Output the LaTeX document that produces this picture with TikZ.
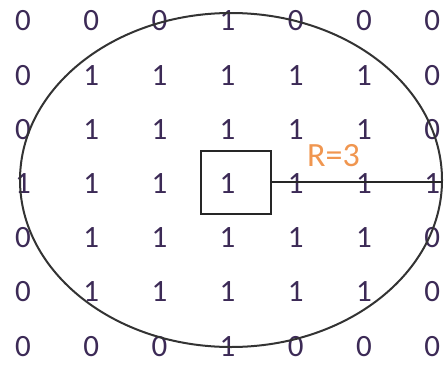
\documentclass[tikz,border=0pt]{standalone}
\usepackage{fontspec}
\setmainfont{Carlito}
\usetikzlibrary{shapes.geometric, positioning}
\definecolor{digit}{RGB}{60,42,86}
\definecolor{radius}{RGB}{240,150,80}

\begin{document}
\begin{tikzpicture}[
    x=1pt, y=-1pt,
    cell/.style={text=digit, font=\fontsize{31}{31}\selectfont, inner sep=0pt},
    window/.style={draw=black!85, line width=2pt, minimum width=70pt, minimum height=63pt},
    disk/.style={ellipse, draw=black!80, line width=2pt, minimum width=422pt, minimum height=334pt, inner sep=0pt},
    ray/.style={draw=black!85, line width=2pt},
    rlabel/.style={text=radius, font=\fontsize{34}{34}\selectfont, inner sep=0pt}
]
    \useasboundingbox (0,0) rectangle (446,364);

    % 7x7 grid of values
    \foreach \row [count=\i] in {{0,0,0,1,0,0,0},{0,1,1,1,1,1,0},{0,1,1,1,1,1,0},{1,1,1,1,1,1,1},{0,1,1,1,1,1,0},{0,1,1,1,1,1,0},{0,0,0,1,0,0,0}}
        \foreach \v [count=\j] in \row
            \node[cell] (c-\i-\j) at ({23+68.2*(\j-1)}, {21+54.2*(\i-1)}) {\v};

    \node[disk] (circ) at (231,180) {};
    \node[window] (win) at (236,182) {};
    \coordinate (edge) at (win.east -| circ.east);
    \draw[ray] (win.east) -- (edge);
    \node[rlabel, above right=15pt and 35pt of win.east] (rad) {R=3};
\end{tikzpicture}
\end{document}
